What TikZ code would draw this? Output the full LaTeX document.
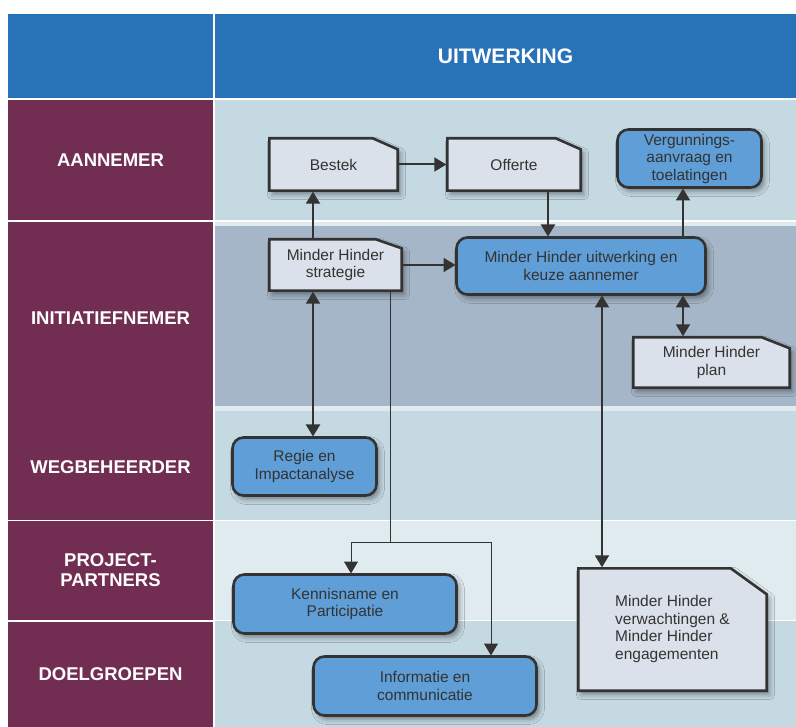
\documentclass[tikz,border=0pt]{standalone}
\usepackage{fontspec}
\setmainfont{Liberation Sans}
\usetikzlibrary{arrows.meta,shadows.blur}
\definecolor{hdrblue}{HTML}{2873B8}
\definecolor{lanemaroon}{HTML}{722E52}
\definecolor{lanelight}{HTML}{C5D9E3}
\definecolor{lanedark}{HTML}{A5B6C8}
\definecolor{lanepale}{HTML}{E0EBEF}
\definecolor{docfill}{HTML}{DBE1EA}
\definecolor{procfill}{HTML}{5F9ED6}
\definecolor{ink}{HTML}{333333}
\tikzset{
  every node/.style={inner sep=0pt, outer sep=1pt},
  shad/.style={blur shadow={shadow xshift=3pt, shadow yshift=-4pt, shadow blur radius=5pt, shadow opacity=40}},
  bodyfont/.style={font=\fontsize{15.5}{17.5}\selectfont, text=ink, align=center},
  proc/.style={bodyfont, draw=ink, line width=2.6pt, fill=procfill, rounded corners=11pt, shad},
  docnode/.style={bodyfont},
  docshape/.style={draw=ink, line width=2.6pt, fill=docfill, shad, line join=miter},
  lanelbl/.style={fill=lanemaroon, text=white, font=\bfseries\fontsize{18.5}{20}\selectfont, align=center, minimum width=205pt, outer sep=0pt},
  hdr/.style={fill=hdrblue, text=white, font=\bfseries\fontsize{21}{24}\selectfont, minimum height=84pt, outer sep=0pt},
  arr/.style={draw=ink, line width=2pt, -{Triangle[length=12pt,width=14pt]}},
  darr/.style={draw=ink, line width=2pt, {Triangle[length=12pt,width=14pt]}-{Triangle[length=12pt,width=14pt]}},
  thinln/.style={draw=ink, line width=1pt},
  thinarr/.style={draw=ink, line width=1pt, -{Triangle[length=12pt,width=14pt]}},
}
% name, cx, cy, w, h, cutx, cuty, text
\newcommand\docbox[8]{%
  \path[docshape] ({#2-#4/2},{#3+#5/2}) -- ({#2-#4/2},{#3-#5/2})
    -- ({#2+#4/2-#6},{#3-#5/2}) -- ({#2+#4/2},{#3-#5/2+#7})
    -- ({#2+#4/2},{#3+#5/2}) -- cycle;
  \node[docnode, minimum width=#4pt, minimum height=#5pt] (#1) at (#2,#3) {#8};}
\begin{document}
\begin{tikzpicture}[x=1pt,y=-1pt]
\useasboundingbox (0,0) rectangle (796,727);
\fill[white] (0,0) rectangle (796,727);
\fill[lanelight] (215,100) rectangle (796,220.5);
\fill[lanepale]  (215,222) rectangle (796,226);
\fill[lanedark]  (215,226) rectangle (796,406);
\fill[lanepale]  (215,406) rectangle (796,411);
\fill[lanelight] (215,411) rectangle (796,519.5);
\fill[lanepale]  (215,520.5) rectangle (796,619.5);
\fill[lanelight] (215,620.5) rectangle (796,727);

% header
\node[hdr, minimum width=205pt] (h0) at (110.5,56) {};
\node[hdr, minimum width=581pt] (h1) at (505.5,56) {UITWERKING};

% lane labels
\node[lanelbl, minimum height=120.5pt] (lA) at (110.5,160.25) {AANNEMER};
\node[lanelbl, minimum height=192pt]   (lI) at (110.5,318) {INITIATIEFNEMER};
\node[lanelbl, minimum height=105.5pt] (lW) at (110.5,466.75) {WEGBEHEERDER};
\node[lanelbl, minimum height=99pt]    (lP) at (110.5,570.5) {PROJECT-\\PARTNERS};
\node[lanelbl, minimum height=105.5pt] (lD) at (110.5,674.25) {\raisebox{-4.5pt}{DOELGROEPEN}};

% document nodes
\docbox{bestek}{333.5}{164.5}{128.4}{52.4}{25}{11}{Bestek}
\docbox{offerte}{514}{164.5}{133.4}{52.4}{25}{11}{Offerte}
\docbox{strat}{335.5}{265}{132.4}{51.4}{26}{9}{Minder Hinder\\strategie}
\docbox{plan}{711.5}{362.5}{156.4}{50.4}{28}{11}{Minder Hinder\\plan}
\docbox{verw}{672.5}{629.5}{188.4}{122.4}{36}{26}{\begin{tabular}{@{}l@{}}Minder Hinder\\verwachtingen \&\\Minder Hinder\\engagementen\end{tabular}}

% process nodes
\node[proc, minimum width=144pt, minimum height=58pt] (verg) at (689.5,158.5) {Vergunnings-\\aanvraag en\\toelatingen};
\node[proc, minimum width=249pt, minimum height=57pt] (uitw) at (581,266) {Minder Hinder uitwerking en\\keuze aannemer};
\node[proc, minimum width=144pt, minimum height=58pt] (regie) at (304.5,466.5) {Regie en\\Impactanalyse};
\node[proc, minimum width=223pt, minimum height=59pt] (kenn) at (345,604) {Kennisname en\\Participatie};
\node[proc, minimum width=223pt, minimum height=59pt] (info) at (425,686) {Informatie en\\communicatie};

% column coordinates
\coordinate (cA) at (313,0);
\coordinate (cB) at (548,0);
\coordinate (cC) at (683,0);
\coordinate (cD) at (602,0);
\coordinate (cK) at (351,0);
\coordinate (cI) at (491,0);
\coordinate (fork) at (390,542);

% connectors
\draw[arr] (bestek.east) -- (offerte.west);
\draw[arr] (offerte.south -| cB) -- (uitw.north -| cB);
\draw[arr] (uitw.north -| cC) -- (verg.south -| cC);
\draw[arr] (strat.north -| cA) -- (bestek.south -| cA);
\draw[arr] (strat.east) -- (strat.east -| uitw.west);
\draw[darr] (strat.south -| cA) -- (regie.north -| cA);
\draw[darr] (uitw.south -| cC) -- (plan.north -| cC);
\draw[darr] (uitw.south -| cD) -- (verw.north -| cD);
\draw[thinln] (strat.south -| fork) -- (fork);
\draw[thinarr] (fork) -| (kenn.north -| cK);
\draw[thinarr] (fork) -| (info.north -| cI);
\end{tikzpicture}
\end{document}
